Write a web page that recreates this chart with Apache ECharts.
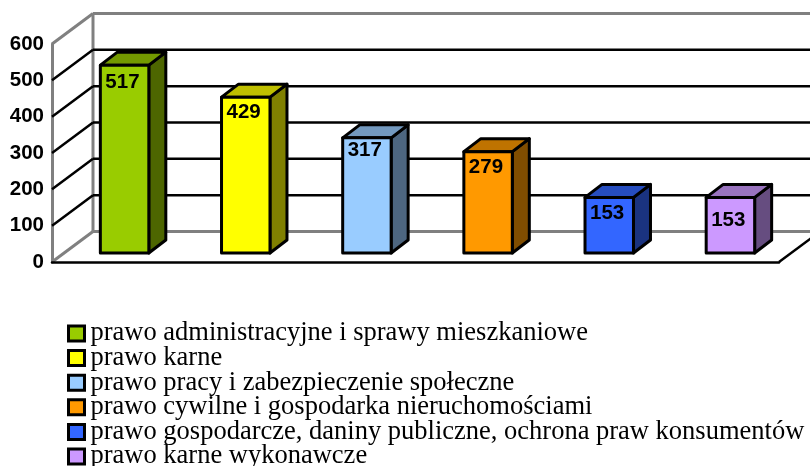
<!DOCTYPE html>
<html lang="pl">
<head>
    <meta charset="UTF-8">
    <title>Wykres</title>
    <script src="https://cdn.jsdelivr.net/npm/echarts@6/dist/echarts.min.js"></script>
    <style type="text/css">
        html, body {
            margin: 0;
            background: #fff;
        }
    </style>
</head>
<body>

<div id="main" style="width: 810px;height:466px;"></div>

<script>
    const categories = [
        'prawo administracyjne i sprawy mieszkaniowe',
        'prawo karne',
        'prawo pracy i zabezpieczenie społeczne',
        'prawo cywilne i gospodarka nieruchomościami',
        'prawo gospodarcze, daniny publiczne, ochrona praw konsumentów',
        'prawo karne wykonawcze'
    ];
    const values = [517, 429, 317, 279, 153, 153];
    const yTicks = [0, 100, 200, 300, 400, 500, 600];

    const frontColors = ['#99cc00', '#ffff00', '#99ccff', '#ff9900', '#3366ff', '#cc99ff'];
    const sideColors = ['#4d6600', '#808000', '#4d6680', '#804d00', '#1a3380', '#664d80'];
    const topColors = ['#739900', '#bfbf00', '#7399bf', '#bf7300', '#264dbf', '#9973bf'];
    // label placement inside each bar, px below the top edge
    const labelDrop = [17, 15, 13, 16, 16, 23];

    // oblique projection of the chart box
    const wallDx = 41, wallDy = -30.5;
    const barFrontDx = 12, barFrontDy = -9;
    const barDepthDx = 17, barDepthDy = -13;

    function renderWalls(params, api) {
        const v = api.value(0);
        const p = api.coord([0, v]);
        const grid = params.coordSys;
        const x0 = grid.x, x1 = grid.x + grid.width;
        const isEdge = v === 0 || v === 600;
        const style = {
            stroke: isEdge ? '#808080' : '#000',
            lineWidth: isEdge ? 3 : 2.5
        };
        const children = [
            {type: 'line', shape: {x1: x0, y1: p[1], x2: x0 + wallDx, y2: p[1] + wallDy}, style: style},
            {type: 'line', shape: {x1: x0 + wallDx, y1: p[1] + wallDy, x2: x1 + wallDx, y2: p[1] + wallDy}, style: style}
        ];
        if (v === 0) {
            children.push({type: 'line', shape: {x1: x0 + wallDx, y1: p[1] + wallDy, x2: x0 + wallDx, y2: api.coord([0, 600])[1] + wallDy}, style: {stroke: '#808080', lineWidth: 3}});
            children.push({type: 'line', shape: {x1: x1, y1: p[1], x2: x1 + wallDx, y2: p[1] + wallDy}, style: {stroke: '#000', lineWidth: 2.5}});
        }
        return {type: 'group', children: children};
    }

    function renderBar(i) {
        return function (params, api) {
            const top = api.coord([api.value(0), api.value(1)]);
            const base = api.coord([api.value(0), 0]);
            const w = api.size([1, 0])[0] * 0.4;
            const l = top[0] - w / 2 + barFrontDx, r = l + w;
            const t = top[1] + barFrontDy, b = base[1] + barFrontDy;
            const edge = {stroke: '#000', lineWidth: 3, lineJoin: 'round'};
            return {
                type: 'group',
                children: [
                    {
                        type: 'polygon',
                        shape: {points: [[r, t], [r + barDepthDx, t + barDepthDy], [r + barDepthDx, b + barDepthDy], [r, b]]},
                        style: Object.assign({fill: sideColors[i]}, edge)
                    },
                    {
                        type: 'polygon',
                        shape: {points: [[l, t], [l + barDepthDx, t + barDepthDy], [r + barDepthDx, t + barDepthDy], [r, t]]},
                        style: Object.assign({fill: topColors[i]}, edge)
                    },
                    {
                        type: 'rect',
                        shape: {x: l, y: t, width: w, height: b - t},
                        style: Object.assign({fill: frontColors[i]}, edge)
                    },
                    {
                        type: 'text',
                        x: l + 5,
                        y: t + labelDrop[i],
                        style: {
                            text: String(api.value(1)),
                            fill: '#000',
                            font: 'bold 20.5px "Liberation Sans", Arial, sans-serif',
                            verticalAlign: 'middle'
                        }
                    }
                ]
            };
        };
    }

    const series = [{
        type: 'custom',
        name: 'walls',
        silent: true,
        z: 1,
        renderItem: renderWalls,
        encode: {y: 0},
        data: yTicks.map(function (v) { return [v]; })
    }];
    categories.forEach(function (name, i) {
        series.push({
            type: 'custom',
            name: name,
            z: 3,
            itemStyle: {color: frontColors[i]},
            renderItem: renderBar(i),
            encode: {x: 0, y: 1},
            data: [[i, values[i]]]
        });
    });

    const myChart = echarts.init(document.getElementById('main'), null, {renderer: 'canvas'});
    const option = {
        animation: false,
        backgroundColor: '#fff',
        grid: {left: 52, top: 44, width: 727, height: 218},
        xAxis: {
            type: 'category',
            data: categories,
            axisTick: {show: false},
            axisLabel: {show: false},
            axisLine: {show: true, lineStyle: {color: '#000', width: 2.5}},
            z: 2
        },
        yAxis: {
            type: 'value',
            min: 0,
            max: 600,
            interval: 100,
            splitLine: {show: false},
            axisTick: {show: false},
            axisLine: {show: true, lineStyle: {color: '#808080', width: 3}},
            axisLabel: {
                margin: 8,
                color: '#000',
                fontSize: 20.5,
                fontWeight: 'bold',
                fontFamily: '"Liberation Sans", Arial, sans-serif'
            }
        },
        legend: {
            orient: 'vertical',
            left: 62,
            top: 315,
            height: 170,
            itemWidth: 16,
            itemHeight: 15,
            itemGap: -2.4,
            selectedMode: false,
            icon: 'rect',
            textStyle: {
                color: '#000',
                fontSize: 26.5,
                fontFamily: '"Liberation Serif", "Times New Roman", serif',
                padding: [0, 0, 0, 1]
            },
            data: categories.map(function (name, i) {
                return {name: name, itemStyle: {color: frontColors[i], borderColor: '#000', borderWidth: 3}};
            })
        },
        series: series
    };

    myChart.setOption(option);
</script>
</body>
</html>
